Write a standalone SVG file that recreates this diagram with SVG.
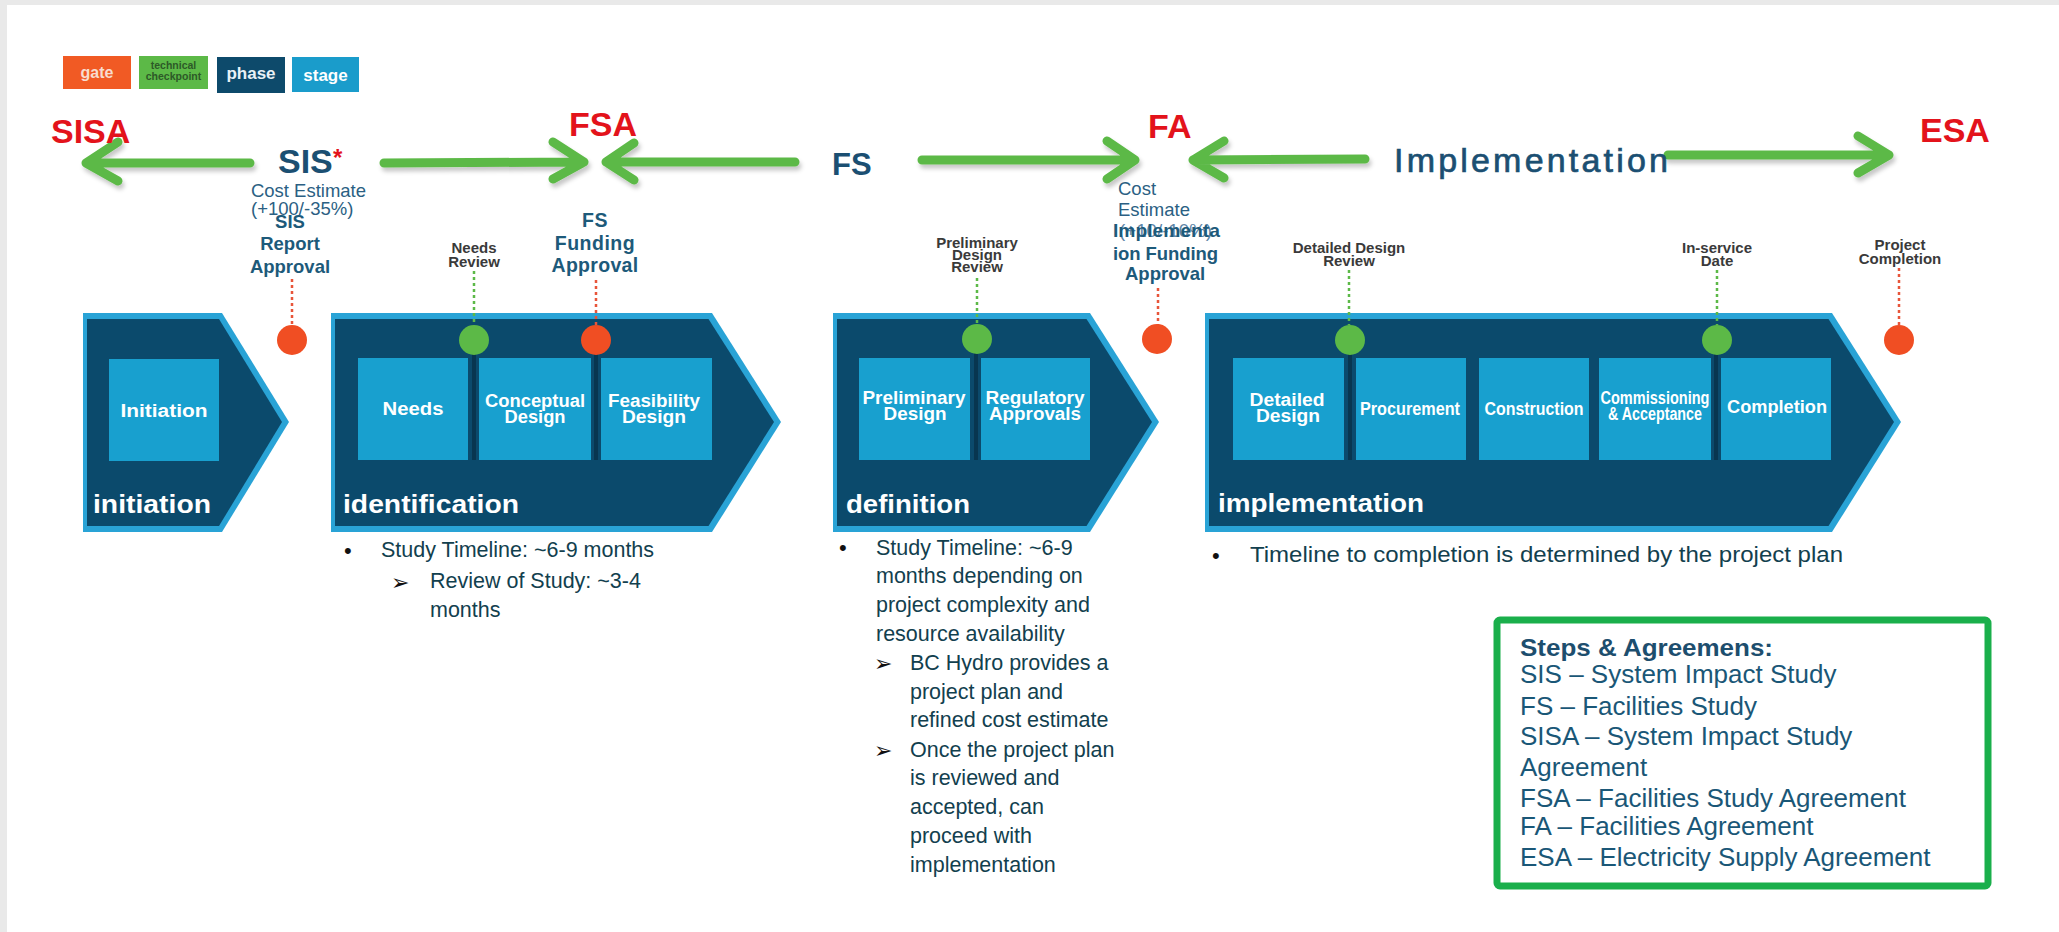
<svg xmlns="http://www.w3.org/2000/svg" width="2059" height="932" viewBox="0 0 2059 932">
<style>
text{font-family:"Liberation Sans",Arial,sans-serif}
.red{fill:#e3131b;font-weight:bold;font-size:34px}
.dk{fill:#1b4f72}
.b{font-weight:bold}
.stg{fill:#ffffff;font-weight:bold;font-size:17.5px}
.phl{fill:#ffffff;font-weight:bold;font-size:26px}
.cp{fill:#3a3a3a;font-weight:bold;font-size:15px}
.body{fill:#12404e;font-size:21.5px}
.leg{fill:#1a5777;font-size:26px}
.bul{fill:#111;font-size:22px}
.ab{fill:#111;font-size:22px;font-family:"DejaVu Sans",sans-serif}
.arr{stroke:#5cb947;stroke-width:9;fill:none;stroke-linecap:round;stroke-linejoin:round}
.outer{fill:#29a3d6}
.inner{fill:#0b4a6c}
.box{fill:#18a0cf}
.stem{stroke:#083650;stroke-width:4}
.rdot{stroke:#e8553a;stroke-width:2.5;stroke-dasharray:3 3}
.gdot{stroke:#5cb947;stroke-width:2.5;stroke-dasharray:3 3}
.gate{fill:#f04e23}
.chk{fill:#5cb947}
</style>
<defs>
<filter id="sh" x="-10%" y="-50%" width="120%" height="200%"><feDropShadow dx="2" dy="4" stdDeviation="2" flood-color="#000" flood-opacity="0.22"/></filter>
</defs>
<rect x="0" y="0" width="2059" height="932" fill="#e9e9e9"/>
<rect x="7" y="5" width="2052" height="927" fill="#ffffff"/>

<g id="legend">
<rect x="63" y="56" width="68" height="33" fill="#f15a24"/>
<text x="97" y="78" text-anchor="middle" font-size="16" font-weight="bold" fill="#f8dccf">gate</text>
<rect x="139" y="56" width="69" height="33" fill="#5cb947"/>
<text x="173.5" y="69" text-anchor="middle" font-size="10.5" font-weight="bold" fill="#2d5a27">technical</text>
<text x="173.5" y="80" text-anchor="middle" font-size="10.5" font-weight="bold" fill="#2d5a27">checkpoint</text>
<rect x="217" y="57" width="68" height="36" fill="#0d4a6b"/>
<text x="251" y="79" text-anchor="middle" font-size="17" font-weight="bold" fill="#e8f1f6">phase</text>
<rect x="292" y="57" width="67" height="35" fill="#1a9ccb"/>
<text x="325.5" y="81" text-anchor="middle" font-size="17" font-weight="bold" fill="#ffffff">stage</text>
</g>

<g id="connectors" filter="url(#sh)">
<path class="arr" d="M250 163 L86 163 M118 142 L86 163 L118 181"/>
<path class="arr" d="M384 163 L584 162 M553 142 L584 162 L553 179"/>
<path class="arr" d="M795 162 L606 162 M634 143 L606 162 L634 180"/>
<path class="arr" d="M922 160 L1135 160 M1107 141 L1135 160 L1107 179"/>
<path class="arr" d="M1365 159 L1193 160 M1224 141 L1193 160 L1224 178"/>
<path class="arr" d="M1668 155 L1889 155 M1858 136 L1889 155 L1858 173"/>
</g>

<g id="agreements">
<text class="red" x="51" y="143">SISA</text>
<text class="red" x="569" y="136">FSA</text>
<text class="red" x="1148" y="138" font-size="33">FA</text>
<text class="red" x="1920" y="142" font-size="33">ESA</text>
</g>

<g id="steps">
<text class="dk b" x="278" y="173" font-size="34">SIS</text>
<text x="333" y="166" fill="#e3131b" font-size="24" font-weight="bold">*</text>
<text class="dk b" x="832" y="175" font-size="31">FS</text>
<text class="dk" x="1394" y="172" font-size="34" stroke="#1b4f72" stroke-width="0.7" textLength="274" lengthAdjust="spacing">Implementation</text>
</g>

<g id="sis-notes">
<text x="251" y="197" font-size="18.5" fill="#2b5f83" textLength="115" lengthAdjust="spacingAndGlyphs">Cost Estimate</text>
<text x="251" y="215" font-size="18.5" fill="#2b5f83">(+100/-35%)</text>
<text x="290" y="228" text-anchor="middle" font-size="18.5" font-weight="bold" fill="#1d5a7a">SIS</text>
<text x="290" y="250" text-anchor="middle" font-size="18.5" font-weight="bold" fill="#1d5a7a">Report</text>
<text x="290" y="273" text-anchor="middle" font-size="18.5" font-weight="bold" fill="#1d5a7a">Approval</text>
</g>

<g id="fs-funding">
<text x="595" y="227" text-anchor="middle" font-size="19.5" font-weight="bold" fill="#1d5a7a" letter-spacing="0.5">FS</text>
<text x="595" y="250" text-anchor="middle" font-size="19.5" font-weight="bold" fill="#1d5a7a" letter-spacing="0.5">Funding</text>
<text x="595" y="272" text-anchor="middle" font-size="19.5" font-weight="bold" fill="#1d5a7a" letter-spacing="0.3">Approval</text>
</g>

<g id="fa-notes">
<text x="1118" y="195" font-size="18.5" fill="#2b5f83">Cost</text>
<text x="1118" y="216" font-size="18.5" fill="#2b5f83">Estimate</text>
<text x="1119" y="237" font-size="18.5" fill="#5f86a8" textLength="93" lengthAdjust="spacingAndGlyphs">(+10/-10%)</text>
<text x="1113" y="237" font-size="18.5" font-weight="bold" fill="#1d5a7a" textLength="107" lengthAdjust="spacingAndGlyphs">Implementa</text>
<text x="1113" y="260" font-size="18.5" font-weight="bold" fill="#1d5a7a" textLength="105" lengthAdjust="spacing">ion Funding</text>
<text x="1125" y="280" font-size="18.5" font-weight="bold" fill="#1d5a7a">Approval</text>
</g>

<g id="checkpoint-labels">
<text class="cp" x="474" y="253" text-anchor="middle">Needs</text>
<text class="cp" x="474" y="267" text-anchor="middle">Review</text>
<text class="cp" x="977" y="248" text-anchor="middle" font-size="14">Preliminary</text>
<text class="cp" x="977" y="260" text-anchor="middle" font-size="14">Design</text>
<text class="cp" x="977" y="272" text-anchor="middle" font-size="14">Review</text>
<text class="cp" x="1349" y="253" text-anchor="middle">Detailed Design</text>
<text class="cp" x="1349" y="266" text-anchor="middle">Review</text>
<text class="cp" x="1717" y="253" text-anchor="middle">In-service</text>
<text class="cp" x="1717" y="266" text-anchor="middle">Date</text>
<text class="cp" x="1900" y="250" text-anchor="middle">Project</text>
<text class="cp" x="1900" y="264" text-anchor="middle">Completion</text>
</g>

<g id="phase-initiation">
<polygon class="outer" points="83,313 222,313 289,422 222,532 83,532"/>
<polygon class="inner" points="87,319 219,319 282,422 219,526 87,526"/>
<rect class="box" x="109" y="359" width="110" height="102"/>
<text class="stg" x="164" y="417" text-anchor="middle" textLength="87" lengthAdjust="spacingAndGlyphs">Initiation</text>
<text class="phl" x="93" y="513" textLength="118" lengthAdjust="spacingAndGlyphs">initiation</text>
</g>

<g id="phase-identification">
<polygon class="outer" points="331,313 712,313 781,422 712,532 331,532"/>
<polygon class="inner" points="335,319 708.5,319 774,422 708.5,526 335,526"/>
<rect class="box" x="358" y="358" width="110" height="102"/>
<rect class="box" x="479" y="358" width="112" height="102"/>
<rect class="box" x="601" y="358" width="111" height="102"/>
<text class="stg" x="413" y="415" text-anchor="middle" textLength="61" lengthAdjust="spacingAndGlyphs">Needs</text>
<text class="stg" x="535" y="407" text-anchor="middle" textLength="100" lengthAdjust="spacingAndGlyphs">Conceptual</text>
<text class="stg" x="535" y="423" text-anchor="middle" textLength="61" lengthAdjust="spacingAndGlyphs">Design</text>
<text class="stg" x="654" y="407" text-anchor="middle" textLength="92" lengthAdjust="spacingAndGlyphs">Feasibility</text>
<text class="stg" x="654" y="423" text-anchor="middle" textLength="64" lengthAdjust="spacingAndGlyphs">Design</text>
<text class="phl" x="343" y="513" textLength="176" lengthAdjust="spacingAndGlyphs">identification</text>
</g>

<g id="phase-definition">
<polygon class="outer" points="833,313 1090,313 1159,422 1090,532 833,532"/>
<polygon class="inner" points="837,319 1086.5,319 1152,422 1086.5,526 837,526"/>
<rect class="box" x="859" y="358" width="111" height="102"/>
<rect class="box" x="981" y="358" width="109" height="102"/>
<text class="stg" x="914" y="404" text-anchor="middle" textLength="103" lengthAdjust="spacingAndGlyphs">Preliminary</text>
<text class="stg" x="915" y="420" text-anchor="middle" textLength="63" lengthAdjust="spacingAndGlyphs">Design</text>
<text class="stg" x="1035" y="404" text-anchor="middle" textLength="99" lengthAdjust="spacingAndGlyphs">Regulatory</text>
<text class="stg" x="1035" y="420" text-anchor="middle" textLength="92" lengthAdjust="spacingAndGlyphs">Approvals</text>
<text class="phl" x="846" y="513" textLength="124" lengthAdjust="spacingAndGlyphs">definition</text>
</g>

<g id="phase-implementation">
<polygon class="outer" points="1205,313 1832,313 1901,422 1832,532 1205,532"/>
<polygon class="inner" points="1209,319 1828.5,319 1894,422 1828.5,526 1209,526"/>
<rect class="box" x="1233" y="358" width="111" height="102"/>
<rect class="box" x="1356" y="358" width="110" height="102"/>
<rect class="box" x="1479" y="358" width="110" height="102"/>
<rect class="box" x="1599" y="358" width="112" height="102"/>
<rect class="box" x="1721" y="358" width="110" height="102"/>
<text class="stg" x="1287" y="406" text-anchor="middle" textLength="75" lengthAdjust="spacingAndGlyphs">Detailed</text>
<text class="stg" x="1288" y="422" text-anchor="middle" textLength="64" lengthAdjust="spacingAndGlyphs">Design</text>
<text class="stg" x="1410" y="415" text-anchor="middle" textLength="100" lengthAdjust="spacingAndGlyphs">Procurement</text>
<text class="stg" x="1534" y="415" text-anchor="middle" textLength="99" lengthAdjust="spacingAndGlyphs">Construction</text>
<text class="stg" x="1655" y="404" text-anchor="middle" textLength="109" lengthAdjust="spacingAndGlyphs">Commissioning</text>
<text class="stg" x="1655" y="420" text-anchor="middle" textLength="94" lengthAdjust="spacingAndGlyphs">&amp; Acceptance</text>
<text class="stg" x="1777" y="413" text-anchor="middle" textLength="100" lengthAdjust="spacingAndGlyphs">Completion</text>
<text class="phl" x="1218" y="512" textLength="206" lengthAdjust="spacingAndGlyphs">implementation</text>
</g>

<g id="markers">
<line class="rdot" x1="292" y1="279" x2="292" y2="325"/>
<line class="gdot" x1="474" y1="271" x2="474" y2="325"/>
<line class="rdot" x1="596" y1="280" x2="596" y2="325"/>
<line class="gdot" x1="977" y1="278" x2="977" y2="325"/>
<line class="rdot" x1="1158" y1="288" x2="1158" y2="325"/>
<line class="gdot" x1="1349" y1="270" x2="1349" y2="325"/>
<line class="gdot" x1="1717" y1="270" x2="1717" y2="325"/>
<line class="rdot" x1="1899" y1="268" x2="1899" y2="325"/>
<line class="stem" x1="474" y1="352" x2="474" y2="460"/>
<line class="stem" x1="596" y1="352" x2="596" y2="460"/>
<line class="stem" x1="976" y1="352" x2="976" y2="460"/>
<line class="stem" x1="1350" y1="352" x2="1350" y2="460"/>
<line class="stem" x1="1716" y1="352" x2="1716" y2="460"/>
<circle class="gate" cx="292" cy="340" r="15"/>
<circle class="chk" cx="474" cy="340" r="15"/>
<circle class="gate" cx="596" cy="340" r="15"/>
<circle class="chk" cx="977" cy="339" r="15"/>
<circle class="gate" cx="1157" cy="339" r="15"/>
<circle class="chk" cx="1350" cy="340" r="15"/>
<circle class="chk" cx="1717" cy="340" r="15"/>
<circle class="gate" cx="1899" cy="340" r="15"/>
</g>

<g id="notes-identification">
<text class="bul" x="344" y="558">•</text>
<text class="body" x="381" y="557" font-size="22.5">Study Timeline: ~6-9 months</text>
<text class="ab" x="391" y="590">➢</text>
<text class="body" x="430" y="588" font-size="22.5">Review of Study: ~3-4</text>
<text class="body" x="430" y="617" font-size="22.5">months</text>
</g>

<g id="notes-definition">
<text class="bul" x="839" y="555">•</text>
<text class="body" x="876" y="555">Study Timeline: ~6-9</text>
<text class="body" x="876" y="583">months depending on</text>
<text class="body" x="876" y="612">project complexity and</text>
<text class="body" x="876" y="641">resource availability</text>
<text class="ab" x="874" y="671">➢</text>
<text class="body" x="910" y="670">BC Hydro provides a</text>
<text class="body" x="910" y="699">project plan and</text>
<text class="body" x="910" y="727">refined cost estimate</text>
<text class="ab" x="874" y="758">➢</text>
<text class="body" x="910" y="757">Once the project plan</text>
<text class="body" x="910" y="785">is reviewed and</text>
<text class="body" x="910" y="814">accepted, can</text>
<text class="body" x="910" y="843">proceed with</text>
<text class="body" x="910" y="872">implementation</text>
</g>

<g id="notes-implementation">
<text class="bul" x="1212" y="563">•</text>
<text class="body" x="1250" y="562" font-size="24" textLength="593" lengthAdjust="spacingAndGlyphs">Timeline to completion is determined by the project plan</text>
</g>

<g id="steps-agreements">
<rect x="1497" y="620" width="491" height="266" rx="3" fill="#ffffff" stroke="#1aaf4b" stroke-width="7"/>
<text x="1520" y="656" font-size="24" font-weight="bold" fill="#1d4e6e" textLength="253" lengthAdjust="spacingAndGlyphs">Steps &amp; Agreemens:</text>
<text class="leg" x="1520" y="683">SIS – System Impact Study</text>
<text class="leg" x="1520" y="715">FS – Facilities Study</text>
<text class="leg" x="1520" y="745">SISA – System Impact Study</text>
<text class="leg" x="1520" y="776">Agreement</text>
<text class="leg" x="1520" y="807">FSA – Facilities Study Agreement</text>
<text class="leg" x="1520" y="835">FA – Facilities Agreement</text>
<text class="leg" x="1520" y="866">ESA – Electricity Supply Agreement</text>
</g>
</svg>
